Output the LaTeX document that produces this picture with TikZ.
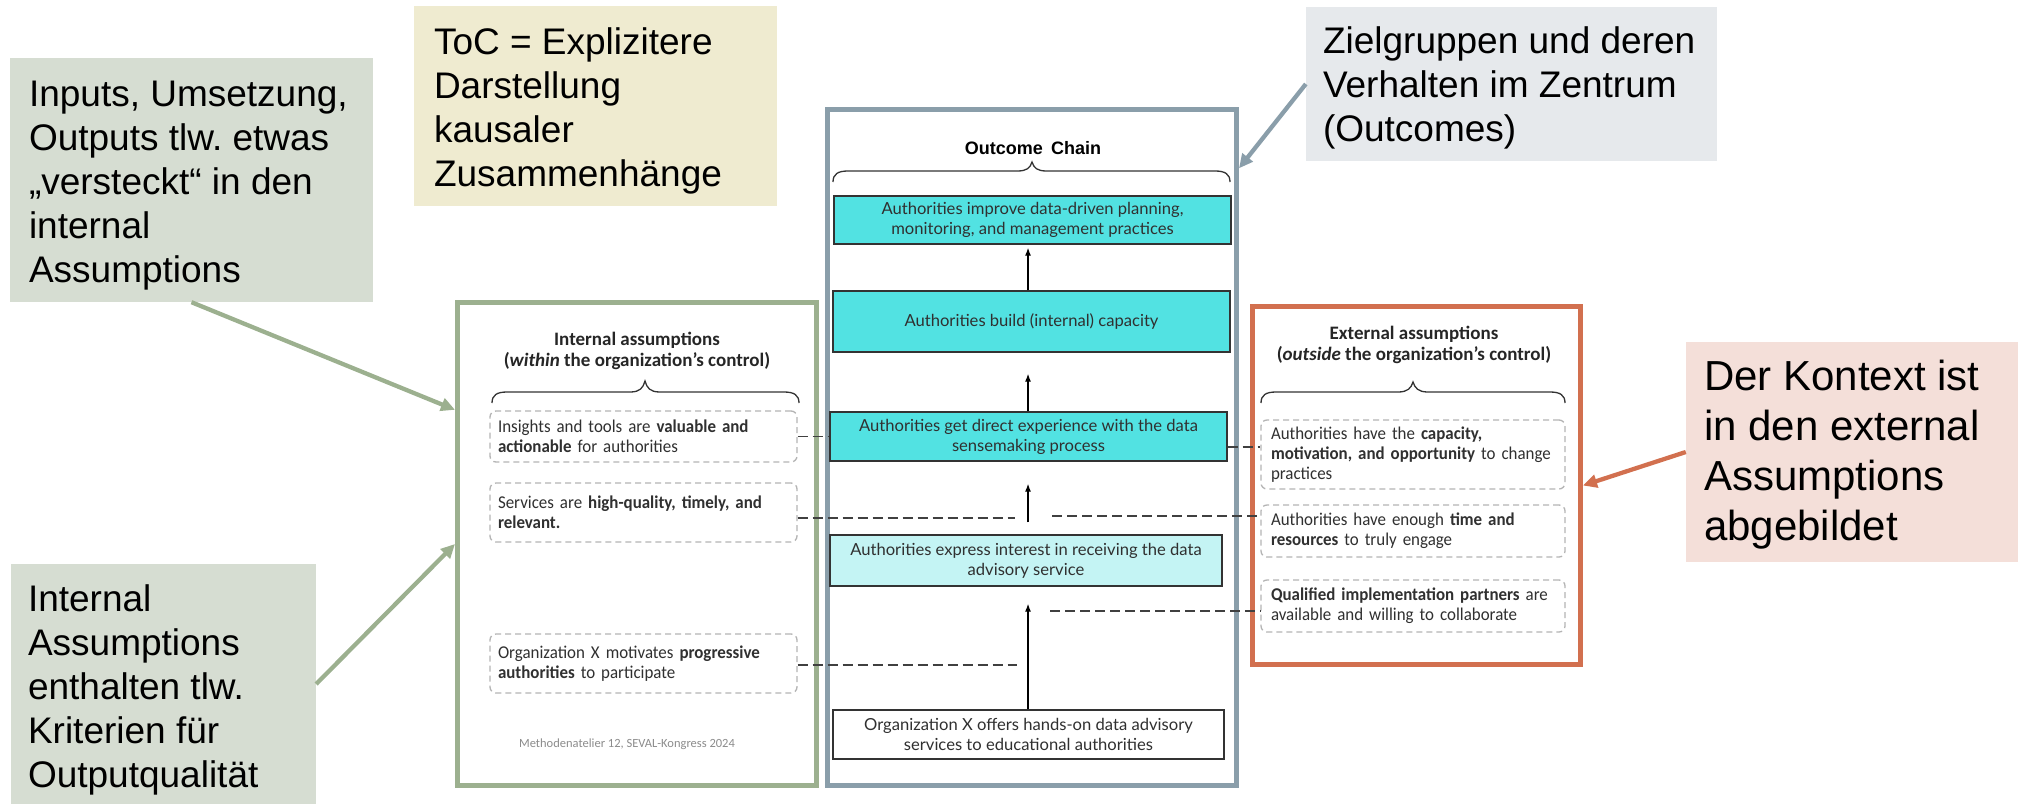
\documentclass[tikz,border=0pt]{standalone}
\usepackage{fontspec}
\setmainfont{Liberation Sans}
\newfontfamily\carl[FakeStretch=0.94]{Carlito}
\newfontfamily\carlt{Carlito}
\newfontfamily\lato{Lato}
\usetikzlibrary{arrows.meta,calc}
\definecolor{cgreen}{HTML}{D6DDD2}
\definecolor{cgreenline}{HTML}{9CB08F}
\definecolor{cyellow}{HTML}{EFEBD0}
\definecolor{cgrey}{HTML}{E6E9EC}
\definecolor{cgreyline}{HTML}{8A9EAA}
\definecolor{cpink}{HTML}{F4DFD9}
\definecolor{corange}{HTML}{D2704F}
\definecolor{ccyan}{HTML}{52E2E2}
\definecolor{clcyan}{HTML}{C4F4F4}
\definecolor{cdash}{HTML}{B4B4B4}
\definecolor{ctext}{HTML}{303030}
\frenchspacing
\begin{document}
\frenchspacing
\begin{tikzpicture}[x=1pt,y=-1pt,
  calloutbox/.style={inner sep=0pt},
  callouttext/.style={inner sep=0pt, align=left, anchor=west, text=black,
    font=\fontsize{37}{44}\selectfont},
  frame/.style={draw, fill=white, line width=5pt, inner sep=0pt},
  chainbox/.style={draw=black!80, line width=1.3pt, inner sep=0pt, align=center,
    text=ctext, font=\lato\fontsize{16.6}{20}\selectfont},
  assum/.style={draw=cdash, dash pattern=on 6pt off 4pt, rounded corners=6pt,
    line width=1.3pt, inner ysep=0pt, align=left, text=ctext,
    font=\carl\fontsize{18}{20}\selectfont},
  titlestyle/.style={align=center, text=black!85, font=\carlt\bfseries\fontsize{19}{21}\selectfont},
  conn/.style={dash pattern=on 10pt off 5pt, line width=1.5pt, draw=black!75},
  bracestyle/.style={line width=1.3pt, draw=black!80},
  flow/.style={-{Latex[length=8pt,width=6pt]}, line width=1.3pt, draw=black},
  pointer/.style={line width=4.3pt, -{Triangle[length=14pt,width=13pt]}}
]
\useasboundingbox (0,0) rectangle (2018,804);

% callout boxes
\node[calloutbox, fill=cgreen, minimum width=363pt, minimum height=244pt] (c1) at (191.5,180) {};
\node[callouttext] (c1t) at ($(c1.west)+(19,6)$)
  {Inputs, Umsetzung,\\Outputs tlw. etwas\\„versteckt“ in den\\internal\\Assumptions};
\node[calloutbox, fill=cyellow, minimum width=363pt, minimum height=200pt] (ybox) at (595.5,106) {};
\node[callouttext] (yboxt) at ($(ybox.west)+(20,5)$)
  {ToC = Explizitere\\Darstellung\\kausaler\\Zusammenhänge};
\node[calloutbox, fill=cgrey, minimum width=411pt, minimum height=154pt] (gbox) at (1511.5,84) {};
\node[callouttext] (gboxt) at ($(gbox.west)+(17,4)$)
  {Zielgruppen und deren\\Verhalten im Zentrum\\(Outcomes)};
\node[calloutbox, fill=cpink, minimum width=332pt, minimum height=220pt] (pbox) at (1852,452) {};
\node[callouttext, font=\fontsize{42}{50}\selectfont] (pboxt) at ($(pbox.west)+(18,3)$)
  {Der Kontext ist\\in den external\\Assumptions\\abgebildet};
\node[calloutbox, fill=cgreen, minimum width=305pt, minimum height=240pt] (c2) at (163.5,684) {};
\node[callouttext] (c2t) at ($(c2.west)+(17,6)$)
  {Internal\\Assumptions\\enthalten tlw.\\Kriterien für\\Outputqualität};

% frames
\node[frame, draw=cgreenline, minimum width=359pt, minimum height=483pt] (intbox) at (637,544) {};
\node[frame, draw=cgreyline, minimum width=409pt, minimum height=676pt] (outbox) at (1032,447.5) {};
\node[frame, draw=corange, minimum width=328pt, minimum height=358pt] (extbox) at (1416.5,485.5) {};

% titles
\node[titlestyle] (ititle) at (637,351) {Internal assumptions\\(\textit{within} the organization’s control)};
\node[titlestyle] (etitle) at (1414,345) {External assumptions\\(\textit{outside} the organization’s control)};
\node[font=\bfseries\fontsize{18}{21}\selectfont] (otitle) at (1033,148) {Outcome\hspace{0.45em}Chain};
\node[text=black!45, font=\carlt\fontsize{12.5}{14}\selectfont] (foot) at (627,744) {Methodenatelier 12, SEVAL-Kongress 2024};

% braces
\draw[bracestyle] (833,182) .. controls (833,174) and (838,171) .. (848,171) -- (1017,171)
  .. controls (1027,171) and (1030,168) .. (1032,162) .. controls (1034,168) and (1037,171) .. (1047,171)
  -- (1215,171) .. controls (1225,171) and (1230,174) .. (1230,182);
\draw[bracestyle] (492,403) .. controls (492,395) and (497,392) .. (507,392) -- (630,392)
  .. controls (640,392) and (643,388) .. (645,381) .. controls (647,388) and (650,392) .. (660,392)
  -- (784,392) .. controls (794,392) and (799,395) .. (799,403);
\draw[bracestyle] (1261,403) .. controls (1261,395) and (1266,392) .. (1276,392) -- (1398,392)
  .. controls (1408,392) and (1411,388) .. (1413,382) .. controls (1415,388) and (1418,392) .. (1428,392)
  -- (1550,392) .. controls (1560,392) and (1565,395) .. (1565,403);

% outcome chain
\node[chainbox, fill=ccyan, minimum width=397pt, minimum height=48pt] (b1) at (1032.5,220)
  {Authorities improve data-driven planning,\\monitoring, and management practices};
\node[chainbox, fill=ccyan, minimum width=397pt, minimum height=61pt] (b2) at (1031.5,321.5)
  {Authorities build (internal) capacity};
\node[chainbox, fill=ccyan, minimum width=397pt, minimum height=49pt] (b3) at (1028.5,436.5)
  {Authorities get direct experience with the data\\sensemaking process};
\node[chainbox, fill=clcyan, minimum width=392pt, minimum height=51pt] (b4) at (1026,560.5)
  {Authorities express interest in receiving the data\\advisory service};
\node[chainbox, fill=white, minimum width=391pt, minimum height=49pt] (b5) at (1028.5,734.5)
  {Organization X offers hands-on data advisory\\services to educational authorities};

% internal assumptions
\node[assum, minimum width=307pt, minimum height=51pt, text width=291pt, inner xsep=8pt] (i1) at (643.5,436.5)
  {Insights and tools are \textbf{valuable and}\\\textbf{actionable} for authorities};
\node[assum, minimum width=307pt, minimum height=59pt, text width=291pt, inner xsep=8pt] (i2) at (643.5,512.5)
  {Services are \textbf{high-quality, timely, and}\\\textbf{relevant.}};
\node[assum, minimum width=307pt, minimum height=59pt, text width=291pt, inner xsep=8pt] (i3) at (643.5,663.5)
  {Organization X motivates \textbf{progressive}\\\textbf{authorities} to participate};

% external assumptions
\node[assum, minimum width=304pt, minimum height=69pt, text width=290pt, inner xsep=7pt] (e1) at (1413,454.5)
  {\hspace*{3pt}Authorities have the \textbf{capacity,}\\\hspace*{3pt}\textbf{motivation, and opportunity} to change\\\hspace*{3pt}practices};
\node[assum, minimum width=304pt, minimum height=52pt, text width=290pt, inner xsep=7pt] (e2) at (1413,531)
  {\hspace*{3pt}Authorities have enough \textbf{time and}\\\hspace*{3pt}\textbf{resources} to truly engage};
\node[assum, minimum width=304pt, minimum height=52pt, text width=290pt, inner xsep=7pt] (e3) at (1413,606)
  {\hspace*{3pt}\textbf{Qualified implementation partners} are\\\hspace*{3pt}available and willing to collaborate};

% chain arrows
\coordinate (ax) at (1028,0);
\draw[flow, shorten >=3pt] (b2.north -| ax) -- (b1.south -| ax);
\draw[flow, shorten >=21pt] (b3.north -| ax) -- (b2.south -| ax);
\draw[flow, shorten <=12pt, shorten >=22pt] (b4.north -| ax) -- (b3.south -| ax);
\draw[flow, shorten >=17pt] (b5.north -| ax) -- (b4.south -| ax);

% dashed links
\draw[conn] (i1.east) -- (i1.east -| b3.west);
\coordinate (d2) at (1015,518);
\draw[conn] (i2.east |- d2) -- (d2);
\coordinate (d3) at (1017,665);
\draw[conn] (i3.east |- d3) -- (d3);
\coordinate (d4) at (1227,447);
\draw[conn] (b3.east |- d4) -- (e1.west |- d4);
\coordinate (d5) at (1052,516);
\draw[conn] (d5) -- (e2.west |- d5);
\coordinate (d6) at (1050,611);
\draw[conn] (d6) -- (e3.west |- d6);

% pointers
\draw[pointer, draw=cgreenline] (c1.south) -- ($(intbox.north west)!0.225!(intbox.south west)$);
\draw[pointer, draw=cgreenline] (c2.east) -- (intbox.west);
\draw[pointer, draw=cgreyline] (gbox.west) -- ($(outbox.north east)!0.09!(outbox.south east)$);
\draw[pointer, draw=corange] (pbox.west) -- (extbox.east);
\end{tikzpicture}
\end{document}
